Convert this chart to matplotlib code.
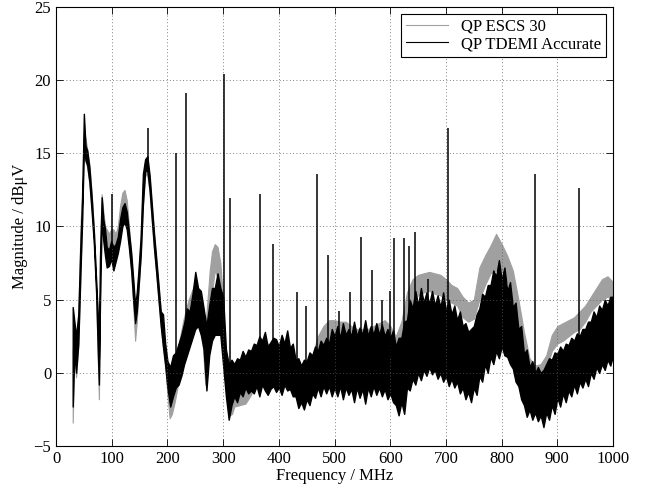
import matplotlib
matplotlib.use("Agg")
import matplotlib.pyplot as plt
from matplotlib.lines import Line2D

# QP ESCS 30 (grey): frequency grid (MHz) and band envelope
escs_f = [30, 33, 36, 40, 44, 47, 50, 53, 56, 60, 64, 68, 72, 75, 77, 79, 82, 85, 88,
          91, 95, 99, 103, 107, 111, 115, 119, 123, 127, 131, 135, 139, 142, 145, 148,
          152, 156, 160, 164, 168, 172, 176, 180, 184, 188, 192, 196, 200, 204, 208,
          213, 218, 223, 228, 233, 238, 243, 248, 253, 258, 263, 268, 272, 276, 280,
          285, 290, 295, 300, 304, 308, 312, 316, 320, 330, 340, 350, 360, 370, 380,
          390, 400, 410, 420, 430, 440, 450, 460, 470, 480, 490, 500, 510, 520, 530,
          540, 550, 560, 570, 580, 590, 600, 610, 620, 630, 640, 650, 660, 670, 680,
          690, 700, 710, 720, 730, 740, 750, 760, 770, 780, 790, 800, 810, 820, 830,
          840, 850, 860, 870, 880, 890, 900, 910, 920, 930, 940, 950, 960, 970, 980,
          990, 1000]
escs_lo = [-3.4, 1.2, -0.3, 1.8, 7.0, 11.0, 15.0, 14.5, 14.0, 13.0, 11.2, 9.0, 5.6, 1.0,
           -1.8, 4.5, 10.5, 9.2, 8.2, 7.5, 7.5, 8.0, 7.4, 7.8, 8.4, 9.2, 10.3, 10.8,
           10.3, 8.8, 6.8, 4.3, 2.2, 3.5, 5.5, 8.0, 11.5, 13.5, 13.5, 12.3, 10.3, 8.4,
           6.8, 5.0, 3.3, 1.8, 0.5, -1.5, -3.1, -2.8, -2.0, -1.0, 0.0, 1.0, 2.0, 2.8,
           3.3, 3.5, 3.5, 3.0, 2.2, -0.8, 1.0, 3.5, 5.5, 7.0, 6.5, 4.5, 2.0, -0.5,
           -2.0, -2.9, -2.8, -2.3, -2.2, -2.1, -1.5, -0.5, 0.2, 0.3, 0.0, 0.0, 0.0,
           -0.3, -1.5, -1.8, -1.5, -0.8, 0.0, 1.5, 2.2, 2.2, 2.0, 2.0, 1.8, 1.5, 1.5,
           1.5, 1.6, 1.7, 1.8, 1.5, 1.0, 1.5, 3.0, 4.8, 5.3, 5.5, 5.6, 5.4, 5.3, 5.0,
           4.8, 4.6, 3.8, 3.5, 3.7, 5.0, 6.0, 6.8, 7.0, 7.0, 6.2, 5.0, 3.0, 0.5, -0.3,
           -0.5, -0.3, 0.2, 1.5, 2.0, 2.2, 2.5, 2.8, 3.0, 3.5, 4.2, 4.6, 5.0, 5.2, 5.0]
escs_hi = [1.5, 3.0, 2.0, 3.8, 10.0, 12.8, 16.5, 16.0, 15.3, 14.2, 12.3, 9.8, 6.5, 3.5,
           0.5, 8.0, 12.2, 11.0, 10.0, 9.8, 9.5, 9.8, 9.8, 9.5, 10.0, 11.4, 12.3, 12.5,
           11.8, 10.0, 8.0, 6.0, 4.0, 5.2, 6.8, 9.3, 13.0, 14.5, 14.5, 13.3, 11.3, 9.4,
           7.6, 6.0, 4.0, 3.0, 1.8, 0.5, -0.5, 0.0, 0.5, 1.5, 2.5, 3.5, 4.3, 5.0, 5.5,
           6.0, 5.8, 5.2, 4.5, 3.0, 5.0, 7.0, 8.3, 8.8, 8.6, 7.5, 5.0, 1.5, 0.0, -0.5,
           -0.3, -0.5, 0.0, 0.2, 0.5, 1.2, 1.8, 2.0, 1.6, 1.5, 1.5, 1.2, 0.2, 0.0, 0.5,
           1.2, 2.5, 3.2, 3.6, 3.6, 3.5, 3.5, 3.2, 3.0, 3.0, 3.0, 3.2, 3.4, 3.6, 3.2,
           2.5, 3.5, 5.5, 6.4, 6.7, 6.8, 6.9, 6.8, 6.7, 6.4, 6.0, 5.8, 5.2, 4.8, 5.0,
           7.2, 8.0, 8.7, 9.5, 8.8, 8.0, 7.0, 5.0, 2.8, 1.0, 0.5, 0.6, 1.2, 2.6, 3.2,
           3.4, 3.6, 3.8, 4.2, 4.6, 5.2, 5.8, 6.4, 6.6, 6.2]

# QP TDEMI Accurate (black): finer grid above 200 MHz to follow the noise
tdemi_f = [30, 33, 36, 40, 44, 47, 50, 53, 56, 60, 64, 68, 72, 75, 77, 79, 82, 85, 88,
           91, 95, 99, 103, 107, 111, 115, 119, 123, 127, 131, 135, 139, 142, 145, 148,
           152, 156, 160, 164, 168, 172, 176, 180, 184, 188, 192, 196,
           200, 205, 210, 215, 220, 225, 230, 235, 240, 245,
           250, 255, 260, 265, 270, 275, 280, 285, 290, 295,
           300, 305, 310, 315, 320, 325, 330, 335, 340, 345,
           350, 355, 360, 365, 370, 375, 380, 385, 390, 395,
           400, 405, 410, 415, 420, 425, 430, 435, 440, 445,
           450, 455, 460, 465, 470, 475, 480, 485, 490, 495,
           500, 505, 510, 515, 520, 525, 530, 535, 540, 545,
           550, 555, 560, 565, 570, 575, 580, 585, 590, 595,
           600, 605, 610, 615, 620, 625, 630, 635, 640, 645,
           650, 655, 660, 665, 670, 675, 680, 685, 690, 695,
           700, 705, 710, 715, 720, 725, 730, 735, 740, 745,
           750, 755, 760, 765, 770, 775, 780, 785, 790, 795,
           800, 805, 810, 815, 820, 825, 830, 835, 840, 845,
           850, 855, 860, 865, 870, 875, 880, 885, 890, 895,
           900, 905, 910, 915, 920, 925, 930, 935, 940, 945,
           950, 955, 960, 965, 970, 975, 980, 985, 990, 995, 1000]
tdemi_lo = [-2.3, 1.5, 0.0, 2.0, 7.0, 10.5, 15.5, 14.5, 14.2, 13.0, 11.0, 8.8, 5.5, 1.5,
            -0.8, 5.0, 10.5, 9.0, 8.0, 7.2, 7.3, 7.8, 7.0, 7.6, 8.2, 9.0, 10.0, 10.3,
            9.8, 8.5, 7.0, 4.8, 3.4, 4.2, 5.8, 8.0, 11.5, 13.8, 13.8, 12.5, 10.5, 8.5,
            6.8, 5.0, 3.2, 1.8, 0.5,
            -1.0, -2.3, -1.6, -1.0, -0.8, -0.2, 0.6, 1.2, 1.8, 2.4,
            3.0, 3.2, 2.6, 1.6, -1.2, 1.2, 2.2, 2.6, 2.6, 2.6,
            0.5, -1.6, -3.2, -2.2, -1.6, -2.0, -1.3, -1.6, -1.0, -1.4,
            -1.2, -1.4, -0.9, -1.6, -0.8, -1.2, -1.5, -1.1, -0.9, -1.3,
            -1.0, -1.5, -0.8, -1.2, -1.1, -1.6, -1.6, -2.4, -2.0, -2.5,
            -1.8, -2.2, -1.4, -1.7, -1.0, -1.6, -0.9, -1.4, -0.9, -1.6,
            -1.0, -1.6, -0.9, -1.8, -1.0, -1.5, -1.1, -2.0, -1.0, -1.7,
            -1.1, -2.1, -1.0, -1.6, -0.9, -1.5, -1.0, -1.6, -1.1, -1.8,
            -1.4, -2.0, -2.2, -2.9, -2.0, -2.8, -1.0, -1.2, -0.4, -0.8,
            0.0, -0.5, 0.2, -0.2, 0.4, -0.1, 0.2, -0.4, 0.0, -0.6,
            -0.2, -0.9, -0.4, -1.0, -0.6, -1.4, -1.0, -1.8, -1.3, -2.0,
            -1.0, -1.5, -0.2, -0.6, 0.6, 0.0, 1.1, 0.6, 1.5, 1.0,
            1.8, 1.2, 1.1, 0.6, 0.3, -0.6, -0.9, -1.8, -2.2, -3.0,
            -2.5, -3.2, -2.7, -3.3, -2.9, -3.7, -2.7, -3.2, -2.2, -2.8,
            -1.7, -2.3, -1.4, -2.0, -1.2, -1.6, -0.8, -1.4, -0.6, -1.0,
            -0.4, -0.9, 0.0, -0.4, 0.4, 0.0, 0.6, 0.2, 0.9, 0.5, 1.2]
tdemi_hi = [4.5, 3.5, 2.5, 4.0, 9.0, 12.0, 17.7, 15.5, 15.2, 14.0, 12.0, 9.6, 6.3, 4.0,
            1.0, 8.0, 12.0, 10.5, 9.8, 8.6, 8.4, 9.0, 8.6, 8.8, 9.3, 10.5, 11.3, 11.6,
            11.0, 9.6, 8.2, 6.2, 4.6, 5.5, 7.0, 9.3, 13.6, 14.6, 14.8, 13.5, 11.5, 9.5,
            7.8, 6.0, 4.2, 4.0, 2.0,
            0.8, 0.4, 1.2, 1.4, 2.0, 2.6, 3.4, 4.4, 4.2, 5.4,
            6.9, 5.8, 5.6, 4.4, 3.2, 4.6, 5.8, 5.8, 6.8, 5.8,
            5.2, 1.6, 0.6, 0.9, 0.6, 1.0, 0.9, 1.5, 1.1, 1.6,
            1.5, 2.0, 1.9, 2.5, 2.2, 2.8, 1.8, 2.1, 2.4, 2.3,
            1.8, 2.6, 2.0, 2.9, 1.7, 2.0, 0.9, 1.0, 0.5, 0.9,
            0.8, 1.4, 1.2, 1.8, 1.5, 2.2, 1.9, 2.4, 2.0, 3.0,
            2.5, 3.2, 2.4, 3.4, 2.6, 3.0, 2.5, 3.5, 2.5, 3.1,
            2.6, 3.6, 2.5, 3.2, 2.6, 3.4, 2.6, 3.3, 2.5, 3.0,
            2.4, 2.9, 1.8, 2.4, 2.4, 3.5, 3.6, 5.0, 4.4, 5.6,
            4.6, 5.8, 4.8, 5.5, 4.7, 5.6, 4.6, 5.3, 4.5, 5.5,
            4.2, 5.0, 4.0, 4.6, 3.6, 4.2, 3.2, 3.4, 2.8, 3.0,
            3.2, 4.0, 4.4, 5.4, 5.2, 6.0, 6.0, 7.0, 6.6, 7.7,
            6.4, 7.2, 5.6, 6.2, 4.5, 4.8, 3.0, 3.2, 1.3, 1.6,
            0.4, 0.8, 0.0, 0.4, 0.0, 0.2, 0.6, 1.0, 0.9, 1.4,
            1.3, 1.8, 1.5, 2.0, 1.9, 2.4, 2.2, 2.7, 2.5, 3.0,
            3.0, 3.5, 3.5, 4.2, 3.8, 4.6, 4.3, 5.0, 4.6, 5.2, 5.2]

# narrow spurs in the TDEMI trace
spike_f = [100, 166, 215, 234, 301, 313, 367, 390, 433, 449, 468, 488, 508, 527, 548,
           567, 586, 600, 606, 625, 633, 645, 667, 703, 860, 938]
spike_top = [12.2, 16.7, 15.0, 19.1, 20.4, 11.95, 12.2, 8.8, 5.5, 4.6, 13.6, 8.05, 4.2,
             5.5, 9.3, 7.0, 5.0, 5.6, 9.2, 9.2, 8.7, 9.6, 6.4, 16.75, 13.6, 12.6]
spike_base = [8.5, 14.0, 1.0, 3.0, 3.0, 0.0, 1.0, 1.0, 0.0, 0.0, 1.0, 1.0, 1.0, 1.0, 1.0,
              1.0, 1.0, 1.0, 1.0, 1.0, 2.0, 2.0, 2.0, 2.0, -1.0, 1.0]

grey = "#a0a0a0"

plt.rcParams["font.family"] = ["Liberation Serif", "DejaVu Serif"]
plt.rcParams["font.size"] = 12

fig = plt.figure(figsize=(6.55, 4.94), dpi=100)
ax = fig.add_axes([0.0855, 0.097, 0.8505, 0.889])

ax.fill_between(escs_f, escs_lo, escs_hi, color=grey, lw=0.8, edgecolor=grey)
ax.fill_between(tdemi_f, tdemi_lo, tdemi_hi, color="k", lw=1.0, edgecolor="k")
ax.vlines(spike_f, spike_base, spike_top, color="k", lw=1.1)

ax.set_xlim(0, 1000)
ax.set_ylim(-5, 25)
ax.set_xticks(range(0, 1001, 100))
ax.set_yticks(range(-5, 26, 5))
ax.grid(True, color="0.35", linestyle=(0, (1, 3)), linewidth=0.6)
ax.tick_params(direction="in", top=True, right=True, length=5, width=0.6)
for s in ax.spines.values():
    s.set_linewidth(0.8)

ax.set_xlabel("Frequency / MHz", labelpad=1)
ax.set_ylabel("Magnitude / dBμV", labelpad=4)

handles = [Line2D([], [], color=grey, lw=0.8), Line2D([], [], color="k", lw=0.8)]
leg = ax.legend(handles, ["QP ESCS 30", "QP TDEMI Accurate"], loc="upper right",
                fancybox=False, framealpha=1, edgecolor="k", borderpad=0.3,
                labelspacing=0.1, handlelength=2.5, borderaxespad=0.4)
leg.get_frame().set_linewidth(0.8)

fig.savefig("out.png", dpi=100)
